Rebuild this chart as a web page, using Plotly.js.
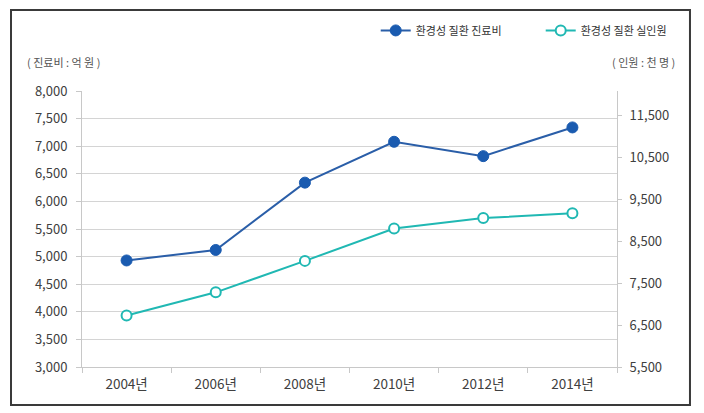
<!DOCTYPE html>
<html>
<head>
<meta charset="utf-8">
<script src="https://cdn.plot.ly/plotly-3.0.1.min.js"></script>
<style>
html,body{margin:0;padding:0;background:#fff;}
#chart{width:704px;height:413px;}
</style>
</head>
<body>
<div id="chart"></div>
<script>
const years = ['2004년','2006년','2008년','2010년','2012년','2014년'];
const costValues = [4930, 5120, 6340, 7080, 6820, 7340];      // 진료비 (억 원)
const patientValues = [6730, 7280, 8030, 8800, 9050, 9165];   // 실인원 (천 명)
const costName = '환경성 질환 진료비';
const patientName = '환경성 질환 실인원';
const leftTicks = [3000,3500,4000,4500,5000,5500,6000,6500,7000,7500,8000];
const rightTicks = [5500,6500,7500,8500,9500,10500,11500];

const FONT = '"Noto Sans CJK KR", "Malgun Gothic", sans-serif';
const blue = '#1a5bb0';
const teal = '#20b8b3';

const traces = [
  {
    x: years, y: costValues, name: costName, type: 'scatter', mode: 'lines+markers',
    line: {color: '#2a5ea8', width: 2},
    marker: {color: blue, size: 11, line: {color: blue, width: 1}},
    yaxis: 'y'
  },
  {
    x: years, y: patientValues, name: patientName, type: 'scatter', mode: 'lines+markers',
    line: {color: teal, width: 2},
    marker: {color: '#ffffff', size: 10, line: {color: teal, width: 2}},
    yaxis: 'y2'
  }
];

const layout = {
  width: 704, height: 413,
  margin: {l: 82, r: 87, t: 91, b: 46, autoexpand: false},
  paper_bgcolor: '#ffffff', plot_bgcolor: '#ffffff',
  font: {family: FONT, size: 13, color: '#404040'},
  showlegend: true,
  legend: {
    orientation: 'h', x: 0.549, y: 1.272, xanchor: 'left', yanchor: 'top',
    font: {family: FONT, size: 11, color: '#333'},
    entrywidth: 120, entrywidthmode: 'pixels',
    itemwidth: 30, tracegroupgap: 0, bgcolor: 'rgba(0,0,0,0)'
  },
  xaxis: {
    type: 'category', range: [-0.5, 5.5],
    showgrid: false, showline: true, linecolor: '#c8c8c8', linewidth: 1,
    ticks: 'outside', tickson: 'boundaries', ticklen: 5, tickcolor: '#c8c8c8',
    ticklabelstandoff: 5,
    tickfont: {family: FONT, size: 13.5, color: '#404040'},
    fixedrange: true
  },
  yaxis: {
    range: [3000, 8000], tickvals: leftTicks, tickformat: ',',
    showgrid: true, gridcolor: '#d4d4d4', gridwidth: 1,
    showline: true, linecolor: '#c8c8c8', linewidth: 1,
    ticks: 'outside', ticklen: 5, tickcolor: '#c8c8c8',
    ticklabelstandoff: 6,
    zeroline: false,
    tickfont: {family: FONT, size: 13, color: '#404040'}
  },
  yaxis2: {
    overlaying: 'y', side: 'right', range: [5500, 12080], tickvals: rightTicks, tickformat: ',',
    showgrid: false, showline: true, linecolor: '#c8c8c8', linewidth: 1,
    ticks: 'outside', ticklen: 4, tickcolor: '#c8c8c8',
    ticklabelstandoff: 5,
    zeroline: false,
    tickfont: {family: FONT, size: 13, color: '#404040'}
  },
  annotations: [
    {text: '( 진료비 : 억 원 )', xref: 'paper', yref: 'paper', x: -0.107, y: 1.105,
     xanchor: 'left', yanchor: 'middle', showarrow: false,
     font: {family: FONT, size: 11, color: '#555'}},
    {text: '( 인원 : 천 명 )', xref: 'paper', yref: 'paper', x: 1.1125, y: 1.105,
     xanchor: 'right', yanchor: 'middle', showarrow: false,
     font: {family: FONT, size: 11, color: '#555'}}
  ],
  shapes: [
    {type: 'rect', xref: 'paper', yref: 'paper', x0: -0.1327, x1: 1.1364, y0: -0.1377, y1: 1.2935,
     line: {color: '#3a3a3a', width: 2}, fillcolor: 'rgba(0,0,0,0)', layer: 'below'}
  ]
};

Plotly.newPlot('chart', traces, layout, {displayModeBar: false, staticPlot: true});
</script>
</body>
</html>
